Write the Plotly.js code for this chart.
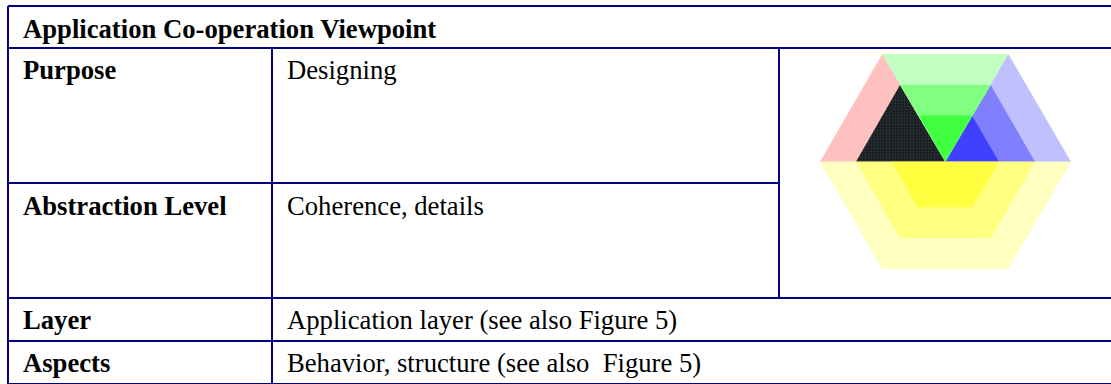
<!DOCTYPE html>
<html><head><meta charset="utf-8">
<script src="https://cdn.plot.ly/plotly-3.0.1.min.js"></script>
<style>html,body{margin:0;padding:0;background:#fff}#c{width:1111px;height:384px}</style>
</head><body><div id="c"></div>
<script>
const navy = '#000080';
// table rules, in picture units
const ruleX0 = [8, 8, 8, 8, 8, 8, 272, 779, 8];
const ruleX1 = [1111, 1111, 779, 1111, 1111, 1111, 272, 779, 8];
const ruleY0 = [6, 48, 183, 298, 341, 383.5, 48, 48, 6];
const ruleY1 = [6, 48, 183, 298, 341, 383.5, 384, 298, 384];
const ruleW = [2, 2, 2, 2, 2, 1, 2, 2, 2];

// text
const labels = ['Application Co-operation Viewpoint', 'Purpose', 'Abstraction Level', 'Layer', 'Aspects',
  'Designing', 'Coherence, details', 'Application layer (see also Figure 5)', 'Behavior, structure (see also  Figure 5)'];
const labelX = [22, 22, 22, 22, 22, 286, 286, 286, 286];
const labelY = [29, 70, 206, 320, 363, 70, 206, 320, 363];
const labelBold = [1, 1, 1, 1, 1, 0, 0, 0, 0];

// hexagon regions
const pinkX = [820, 882.3, 945.3], pinkY = [161.7, 54, 161.7];
const blackX = [856, 900, 945.3], blackY = [161.7, 85, 161.7];
const green1X = [882.3, 1008.3, 945.3], green1Y = [54, 54, 161.7];
const green2X = [900, 990.7, 945.3], green2Y = [85, 85, 161.7];
const green3X = [919, 972, 945.3], green3Y = [115.5, 115.5, 161.7];
const blue1X = [945.3, 1008.3, 1071], blue1Y = [161.7, 54, 161.7];
const blue2X = [945.3, 990.7, 1035], blue2Y = [161.7, 85, 161.7];
const blue3X = [945.3, 972, 999], blue3Y = [161.7, 115.5, 161.7];
const yellow1X = [820, 1071, 1008.3, 882.3], yellow1Y = [161.7, 161.7, 269, 269];
const yellow2X = [856, 1035, 990.7, 900], yellow2Y = [161.7, 161.7, 238, 238];
const yellow3X = [891.7, 999, 972, 918], yellow3Y = [161.7, 161.7, 207.3, 207.3];

const polys = [
 [pinkX, pinkY, '#FFC0C0'], [blackX, blackY, '#1C2226'],
 [blue1X, blue1Y, '#C0C0FF'], [blue2X, blue2Y, '#8080FF'], [blue3X, blue3Y, '#4040FF'],
 [green1X, green1Y, '#C0FFC0'], [green2X, green2Y, '#80FF80'], [green3X, green3Y, '#40FF40'],
 [yellow1X, yellow1Y, '#FFFFC0'], [yellow2X, yellow2Y, '#FFFF80'], [yellow3X, yellow3Y, '#FFFF40']
];
const traces = polys.map((p, i) => {
  const t = {type: 'scatter', mode: 'lines', x: p[0], y: p[1], fill: 'toself', fillcolor: p[2],
    line: {width: 0, color: p[2]}, hoverinfo: 'skip', showlegend: false};
  if (i === 1) t.fillpattern = {shape: '.', size: 3, solidity: 0.45, bgcolor: '#12181B', fgcolor: '#2C3438', fillmode: 'replace'};
  return t;
});
ruleX0.forEach((x, i) => traces.push({
  type: 'scatter', mode: 'lines', x: [x, ruleX1[i]], y: [ruleY0[i], ruleY1[i]],
  line: {color: navy, width: ruleW[i]}, hoverinfo: 'skip', showlegend: false
}));
const annotations = labels.map((t, i) => ({
  text: labelBold[i] ? '<b>' + t + '</b>' : t, x: labelX[i], y: labelY[i], xref: 'x', yref: 'y',
  xanchor: 'left', yanchor: 'middle', showarrow: false, xshift: -1,
  font: {family: '"Liberation Serif", serif', size: 26.67, color: '#000'}
}));
Plotly.newPlot('c', traces, {
  width: 1111, height: 384, margin: {l: 0, r: 0, t: 0, b: 0}, paper_bgcolor: '#fff', plot_bgcolor: '#fff',
  showlegend: false, annotations,
  xaxis: {range: [0, 1111], visible: false, fixedrange: true},
  yaxis: {range: [384, 0], visible: false, fixedrange: true}
}, {displayModeBar: false, staticPlot: true});
</script></body></html>
